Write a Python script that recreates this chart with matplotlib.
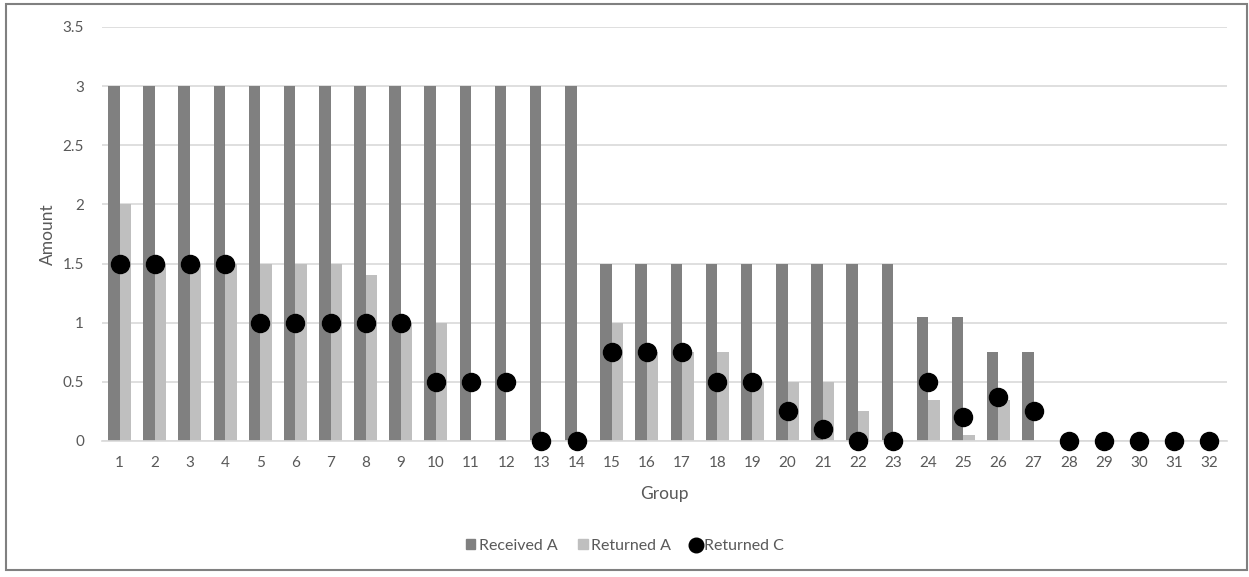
import matplotlib
matplotlib.use("Agg")
import matplotlib.pyplot as plt
from matplotlib.patches import Rectangle
from matplotlib.lines import Line2D
import numpy as np

groups = list(range(1, 33))
received_a = [3, 3, 3, 3, 3, 3, 3, 3, 3, 3, 3, 3, 3, 3,
              1.5, 1.5, 1.5, 1.5, 1.5, 1.5, 1.5, 1.5, 1.5,
              1.05, 1.05, 0.75, 0.75, 0, 0, 0, 0, 0]
returned_a = [2, 1.5, 1.5, 1.5, 1.5, 1.5, 1.5, 1.4, 1.0, 1.0, 0, 0, 0, 0,
              1.0, 0.75, 0.75, 0.75, 0.5, 0.5, 0.5, 0.25, 0,
              0.35, 0.05, 0.35, 0, 0, 0, 0, 0, 0]
returned_c = [1.5, 1.5, 1.5, 1.5, 1.0, 1.0, 1.0, 1.0, 1.0, 0.5, 0.5, 0.5, 0, 0,
              0.75, 0.75, 0.75, 0.5, 0.5, 0.25, 0.1, 0, 0,
              0.5, 0.2, 0.37, 0.25, 0, 0, 0, 0, 0]

plt.rcParams['font.family'] = ['Lato', 'DejaVu Sans']
text_color = '#595959'
grid_color = '#d9d9d9'

fig = plt.figure(figsize=(12.49, 5.77), dpi=100)
ax = fig.add_axes([102 / 1249, 1 - 441 / 577, 1125 / 1249, (441 - 27) / 577])

x = np.arange(len(groups))
w = 0.327
ax.bar(x - w / 2, received_a, width=w, color='#808080', label='Received A', zorder=2)
ax.bar(x + w / 2, returned_a, width=w, color='#bfbfbf', label='Returned A', zorder=2)
ax.plot(x, returned_c, linestyle='none', marker='o', markersize=13,
        color='black', label='Returned C', zorder=3, clip_on=False)

ax.set_xlim(-0.5, len(groups) - 0.5)
ax.set_ylim(0, 3.5)
ax.set_yticks(np.arange(0, 3.51, 0.5))
ax.set_yticklabels(['0', '0.5', '1', '1.5', '2', '2.5', '3', '3.5'])
ax.set_xticks(x)
ax.set_xticklabels([str(g) for g in groups])
ax.yaxis.grid(True, color=grid_color, linewidth=1.2, zorder=0)
ax.set_axisbelow(True)
for s in ['top', 'right', 'left']:
    ax.spines[s].set_visible(False)
ax.spines['bottom'].set_color(grid_color)
ax.spines['bottom'].set_linewidth(1.2)
ax.tick_params(axis='both', length=0, labelsize=11, colors=text_color)
ax.tick_params(axis='y', pad=13)
ax.tick_params(axis='x', pad=11)

ax.set_xlabel('Group', fontsize=12.5, color=text_color, labelpad=11)
ax.set_ylabel('Amount', fontsize=12.5, color=text_color, labelpad=5)

handles = [
    Rectangle((0, 0), 1, 1, color='#808080'),
    Rectangle((0, 0), 1, 1, color='#bfbfbf'),
    Line2D([], [], linestyle='none', marker='o', markersize=10.5, color='black'),
]
fig.legend(handles, ['Received A', 'Returned A', 'Returned C'],
           loc='center', bbox_to_anchor=(625 / 1249, 1 - 546 / 577), ncol=3,
           frameon=False, fontsize=11.5, labelcolor=text_color,
           handlelength=0.6, handleheight=0.6, handletextpad=0.2, columnspacing=1.3)

fig.patches.append(Rectangle((6 / 1249, 1 - 570 / 577), 1241 / 1249, 566 / 577,
                             transform=fig.transFigure, fill=False,
                             edgecolor='#808080', linewidth=1.5))

fig.savefig('out.png', dpi=100, facecolor='white')
